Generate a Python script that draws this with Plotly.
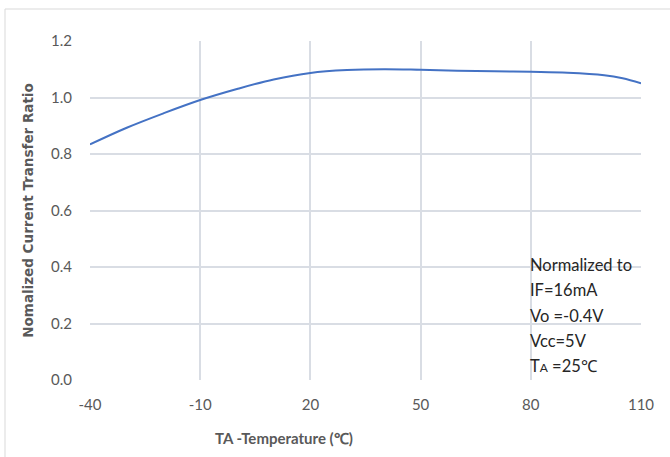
import plotly.graph_objects as go

temps = [-40, -30, -20, -10, 0, 10, 20, 30, 40, 50, 60, 70, 80, 90, 100, 105, 110]
ctr = [0.834, 0.893, 0.944, 0.991, 1.030, 1.064, 1.087, 1.097, 1.100, 1.098, 1.095, 1.093, 1.091, 1.088, 1.079, 1.068, 1.050]

x_ticks = [-40, -10, 20, 50, 80, 110]
y_ticks = [0.0, 0.2, 0.4, 0.6, 0.8, 1.0, 1.2]
note_lines = ["Normalized to", "IF=16mA", "Vo =-0.4V", "Vcc=5V", "T<span style='font-size:12px'>A</span> =25℃"]

tick_font = dict(family="Lato, sans-serif", size=15, color="#595959")
grid = "#d9dde4"

fig = go.Figure()
fig.add_trace(go.Scatter(x=temps, y=ctr, mode="lines",
                         line=dict(color="#4472C4", width=2, shape="spline", smoothing=1.0),
                         showlegend=False, hoverinfo="skip"))

fig.update_layout(
    width=670, height=457,
    margin=dict(l=90, r=29, t=41, b=77),
    paper_bgcolor="white", plot_bgcolor="white",
    xaxis=dict(range=[-40, 110], tickvals=x_ticks, ticktext=[str(v) for v in x_ticks],
               showgrid=True, gridcolor=grid, gridwidth=1.5, zeroline=False,
               showline=False, tickfont=tick_font, ticks="", ticklabelstandoff=14),
    yaxis=dict(range=[0, 1.2], tickvals=y_ticks, ticktext=[f"{v:.1f}" for v in y_ticks],
               showgrid=True, gridcolor=grid, gridwidth=1.5, zeroline=False,
               showline=False, tickfont=tick_font, ticks="", ticklabelstandoff=17,
               title=dict(text="<b>Nomalized Current Transfer Ratio</b>",
                          font=dict(family="DejaVu Sans, sans-serif", size=13.5, color="#595959"),
                          standoff=14)),
)

fig.add_annotation(xref="paper", yref="paper", x=(284 - 90) / 551, y=(380 - 438) / 339,
                   text="<b>TA -Temperature (℃)</b>", showarrow=False,
                   xanchor="center", yanchor="middle",
                   font=dict(family="Lato, sans-serif", size=15, color="#595959"))

for i, line in enumerate(note_lines):
    fig.add_annotation(xref="paper", yref="paper", x=(528 - 90) / 551, y=(380 - (265 + 25.3 * i)) / 339,
                       text=line, showarrow=False, xanchor="left", yanchor="middle",
                       font=dict(family="Lato, sans-serif", size=16.5, color="#262626"))

fig.add_shape(type="rect", xref="paper", yref="paper",
              x0=(5 - 90) / 551, x1=(675 - 90) / 551, y0=(380 - 465) / 339, y1=(380 - 9) / 339,
              line=dict(color="#d9d9d9", width=1), fillcolor="rgba(0,0,0,0)", layer="below")

fig.write_html("out.html", config={"displayModeBar": False},
               post_script="document.body.style.margin='0';document.body.style.padding='0';")
